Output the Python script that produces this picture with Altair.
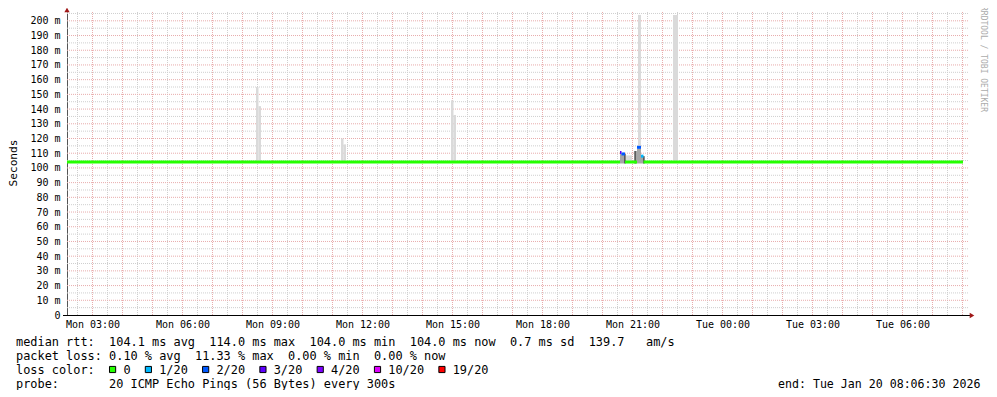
import altair as alt
import pandas as pd

NB = "\u00a0"
FONT = "DejaVu Sans Mono"

# ---- time axis: hours since Mon 00:00 ----
t_start, t_end = 2.15, 32.15
x_tick_hours = [3, 6, 9, 12, 15, 18, 21, 24, 27, 30]
x_tick_labels = ["Mon 03:00", "Mon 06:00", "Mon 09:00", "Mon 12:00", "Mon 15:00",
                 "Mon 18:00", "Mon 21:00", "Tue 00:00", "Tue 03:00", "Tue 06:00"]
x_major_grid = list(range(3, 33))
x_minor_grid = [h + 0.5 for h in range(2, 32)]
y_ticks = list(range(0, 201, 10))
y_major_grid = list(range(10, 201, 10))
y_minor_grid = list(range(5, 206, 10))

# ---- median rtt (ms) segments with loss level ----
med_t0 = [2.15, 20.583, 20.633, 20.75, 21.15, 21.283, 21.367]
med_t1 = [20.583, 20.633, 20.75, 21.15, 21.283, 21.367, 32.017]
med_ms = [104, 110.5, 109.5, 104, 114, 108, 104]
med_loss = ["0", "3/20", "2/20", "0", "2/20", "1/20", "0"]

# ---- smoke (ping spread) ----
smoke_t0 = [8.45, 8.533, 11.283, 11.367, 14.95, 15.033, 21.183, 22.35, 20.783]
smoke_t1 = [8.533, 8.617, 11.367, 11.45, 15.033, 15.117, 21.283, 22.517, 20.983]
smoke_lo = [104, 104, 104, 104, 104, 104, 104, 104, 104]
smoke_hi = [155, 142, 120, 116, 146, 136, 204, 204, 108.5]

dsmoke_t0 = [20.583, 21.083, 21.15, 21.283]
dsmoke_t1 = [20.75, 21.15, 21.283, 21.383]
dsmoke_lo = [103, 103, 103, 103]
dsmoke_hi = [109.5, 111.5, 113, 108]

# dark edges of the smoke near 21:00
edge_t = [20.75, 21.083, 21.383]
edge_lo = [103, 103, 103]
edge_hi = [109.5, 111.5, 108]

# ---- loss colour legend ----
loss_labels = ["0", "1/20", "2/20", "3/20", "4/20", "10/20", "19/20"]
loss_colors = ["#26ff00", "#00b8ff", "#0059ff", "#5e00ff", "#7e00ff", "#dd00ff", "#ff0000"]

line1 = "median rtt:  104.1 ms avg  114.0 ms max  104.0 ms min  104.0 ms now  0.7 ms sd  139.7   am/s"
line2 = "packet loss: 0.10 % avg  11.33 % max  0.00 % min  0.00 % now"
line3_head = "loss color:"
line4 = "probe:       20 ICMP Echo Pings (56 Bytes) every 300s"
end_text = "end: Tue Jan 20 08:06:30 2026"
y_title = "Seconds"
watermark = "RRDTOOL / TOBI OETIKER"

# ---------------------------------------------------------------
W, H = 900, 303
xs = alt.Scale(domain=[t_start, t_end], nice=False, zero=False)
ys = alt.Scale(domain=[0, 206], nice=False, zero=True)

xexpr = " : ".join(f"datum.value == {h} ? '{l.replace(' ', NB)}'"
                   for h, l in zip(x_tick_hours, x_tick_labels)) + " : ''"
yexpr = f"datum.value == 0 ? '0{NB}{NB}' : datum.value + '{NB}m'"

xaxis = alt.Axis(values=x_tick_hours, labelExpr=xexpr, grid=False, ticks=False,
                 domain=False, labelFont=FONT, labelFontSize=10, labelColor="#000000",
                 labelPadding=4, labelFlush=False, labelOverlap=False, title=None)
yaxis = alt.Axis(values=y_ticks, labelExpr=yexpr, grid=False, ticks=False,
                 domain=True, domainColor="#555555", labelFont=FONT, labelFontSize=10,
                 labelColor="#000000", labelPadding=7, labelFlush=False,
                 labelOverlap=False, title=None)


def X(f):
    return alt.X(f, type="quantitative", scale=xs, axis=xaxis, title=None)


def Y(f):
    return alt.Y(f, type="quantitative", scale=ys, axis=yaxis, title=None)


one = pd.DataFrame({"k": [0]})

GRID_MINOR = "#cfcfcf"
GRID_MAJOR = "#e8acac"

vminor = alt.Chart(pd.DataFrame({"t": x_minor_grid})).mark_rule(
    color=GRID_MINOR, strokeDash=[1, 1], strokeWidth=1
).encode(x=X("t"), y=alt.value(0), y2=alt.value(H))
vmajor = alt.Chart(pd.DataFrame({"t": x_major_grid})).mark_rule(
    color=GRID_MAJOR, strokeDash=[1, 1], strokeWidth=1
).encode(x=X("t"), y=alt.value(0), y2=alt.value(H))
hminor = alt.Chart(pd.DataFrame({"v": y_minor_grid})).mark_rule(
    color=GRID_MINOR, strokeDash=[1, 1], strokeWidth=1
).encode(y=Y("v"), x=alt.value(0), x2=alt.value(W + 2))
hmajor = alt.Chart(pd.DataFrame({"v": y_major_grid})).mark_rule(
    color=GRID_MAJOR, strokeDash=[1, 1], strokeWidth=1
).encode(y=Y("v"), x=alt.value(0), x2=alt.value(W + 2))

smoke = alt.Chart(pd.DataFrame({"t0": smoke_t0, "t1": smoke_t1, "lo": smoke_lo, "hi": smoke_hi})).mark_rect(
    color="#dadada"
).encode(x=X("t0"), x2="t1", y=Y("lo"), y2="hi")
dsmoke = alt.Chart(pd.DataFrame({"t0": dsmoke_t0, "t1": dsmoke_t1, "lo": dsmoke_lo, "hi": dsmoke_hi})).mark_rect(
    color="#a6a6a6"
).encode(x=X("t0"), x2="t1", y=Y("lo"), y2="hi")
edges = alt.Chart(pd.DataFrame({"t": edge_t, "lo": edge_lo, "hi": edge_hi})).mark_rule(
    color="#111111", strokeWidth=1
).encode(x=X("t"), y=Y("lo"), y2="hi")

median = alt.Chart(pd.DataFrame({"t0": med_t0, "t1": med_t1, "ms": med_ms, "loss": med_loss})).mark_rule(
    strokeWidth=3
).encode(
    x=X("t0"), x2="t1", y=Y("ms"),
    color=alt.Color("loss:N", scale=alt.Scale(domain=loss_labels, range=loss_colors), legend=None),
)

xline = alt.Chart(one).mark_rule(color="#000000", strokeWidth=1).encode(
    x=alt.value(-4), x2=alt.value(W + 5), y=alt.value(H + 0.5))
arrow_up = alt.Chart(one).mark_point(shape="triangle-up", filled=True, size=28,
                                     color="#a01818", opacity=1).encode(
    x=alt.value(0), y=alt.value(-2))
arrow_right = alt.Chart(one).mark_point(shape="triangle-right", filled=True, size=28,
                                        color="#a01818", opacity=1).encode(
    x=alt.value(W + 5), y=alt.value(H + 0.5))

# legend text block
CW = 7.16
X0 = -51
FS = 11.9


def nb(s):
    return s.replace(" ", NB)


col = 15
line3 = line3_head
box_x = []
for lab in loss_labels:
    line3 = line3.ljust(col, NB) + lab
    box_x.append(X0 + (col - 2) * CW + 3.5)
    col = col + len(lab) + 4

texts = []
for s, yb in [(line1, 333.5), (line2, 347.5), (line3, 361.5), (line4, 375.5)]:
    texts.append(alt.Chart(one).mark_text(
        text=nb(s), font=FONT, fontSize=FS, align="left", baseline="alphabetic", color="#000000"
    ).encode(x=alt.value(X0), y=alt.value(yb)))
texts.append(alt.Chart(one).mark_text(
    text=nb(end_text), font=FONT, fontSize=11.6, align="left", baseline="alphabetic", color="#000000"
).encode(x=alt.value(711), y=alt.value(375.5)))

boxes = alt.Chart(pd.DataFrame({"bx": box_x, "loss": loss_labels})).mark_square(
    size=38, stroke="#000000", strokeWidth=1, opacity=1
).encode(
    x=alt.X("bx:Q", scale=None),
    y=alt.value(357.5),
    fill=alt.Fill("loss:N", scale=alt.Scale(domain=loss_labels, range=loss_colors), legend=None),
)

ytitle = alt.Chart(one).mark_text(
    text=y_title, font=FONT, fontSize=11.2, angle=270, align="center", baseline="middle", color="#000000"
).encode(x=alt.value(-53.5), y=alt.value(151))
wm = alt.Chart(one).mark_text(
    text=nb(watermark), font=FONT, fontSize=8.0, angle=90, align="center", baseline="middle", color="#ababab"
).encode(x=alt.value(915.5), y=alt.value(47))

chart = alt.layer(
    vminor, vmajor, hminor, hmajor, smoke, dsmoke, edges, median, xline, arrow_up, arrow_right,
    *texts, boxes, ytitle, wm
).properties(
    width=W, height=H,
    autosize=alt.AutoSizeParams(type="none"),
    padding={"left": 59, "top": 4, "right": 22, "bottom": 75},
    background="#ffffff",
).configure_view(stroke=None)

chart.save("out.html", embed_options={"renderer": "svg", "actions": False})
